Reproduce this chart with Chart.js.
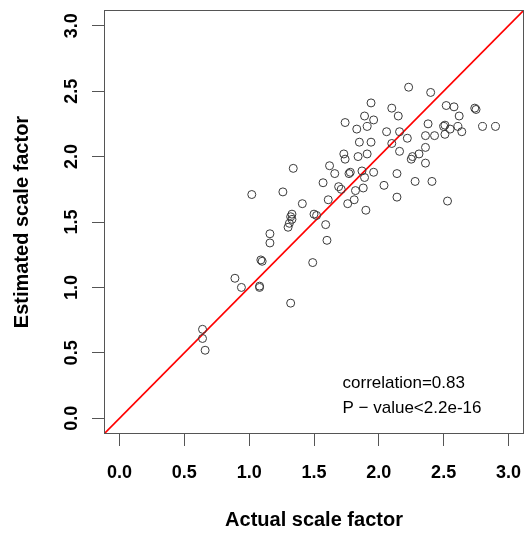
<!DOCTYPE html>
<html>
<head>
<meta charset="utf-8">
<script src="https://cdn.jsdelivr.net/npm/chart.js@4"></script>
<style>
  html, body { margin: 0; padding: 0; background: #fff; }
  #wrap { width: 529px; height: 536px; }
</style>
</head>
<body>
<div id="wrap"><canvas id="c" width="529" height="536"></canvas></div>
<script>
// actual vs estimated scale factor
const actualScale = [
  2.23, 2.40, 1.94, 2.10, 2.15, 2.52, 2.58, 2.74, 2.75, 1.89,
  1.96, 1.74, 1.91, 1.83, 2.62, 2.38, 2.51, 2.50, 2.61, 2.55,
  2.80, 2.90, 2.06, 2.16, 2.22, 2.36, 2.43, 2.51, 2.64, 1.85,
  1.94, 2.10, 2.36, 2.16, 1.73, 1.74, 1.84, 1.91, 2.31, 2.26,
  2.25, 2.36, 1.62, 1.66, 1.77, 1.78, 1.87, 1.96, 2.14, 1.89,
  1.69, 1.71, 1.88, 1.82, 2.04, 2.28, 2.41, 1.61, 1.81, 1.76,
  2.14, 1.90, 2.53, 1.34, 1.57, 1.02, 1.26, 1.41, 1.33, 1.32,
  1.33, 1.31, 1.30, 1.50, 1.52, 1.59, 1.60, 1.16, 1.16, 1.09,
  1.10, 1.49, 0.89, 0.94, 1.08, 1.08, 1.32, 0.64, 0.64, 0.66
];
const estimatedScale = [
  2.53, 2.49, 2.41, 2.37, 2.31, 2.39, 2.38, 2.37, 2.36, 2.31,
  2.28, 2.26, 2.23, 2.21, 2.31, 2.25, 2.24, 2.23, 2.23, 2.21,
  2.23, 2.23, 2.19, 2.19, 2.14, 2.16, 2.16, 2.17, 2.19, 2.11,
  2.11, 2.10, 2.07, 2.04, 2.02, 1.98, 2.00, 2.02, 2.02, 2.00,
  1.98, 1.95, 1.93, 1.87, 1.87, 1.88, 1.89, 1.88, 1.87, 1.84,
  1.77, 1.75, 1.76, 1.74, 1.78, 1.81, 1.81, 1.67, 1.67, 1.64,
  1.69, 1.59, 1.66, 1.91, 1.80, 1.71, 1.73, 1.64, 1.56, 1.54,
  1.52, 1.49, 1.46, 1.56, 1.55, 1.48, 1.36, 1.41, 1.34, 1.21,
  1.20, 1.19, 1.07, 1.00, 1.01, 1.00, 0.88, 0.68, 0.61, 0.52
];

const tickValues = [0.0, 0.5, 1.0, 1.5, 2.0, 2.5, 3.0];
const axisMin = -0.12;
const axisMax = 3.12;

// text in the lower right corner: [x, y, text] in data units
const notes = [
  [1.72, 0.27, 'correlation=0.83'],
  [1.72, 0.075, 'P \u2212 value<2.2e-16']
];

const FONT = "'Liberation Sans', Arial, sans-serif";
const AXIS_COLOR = '#555';

const points = actualScale.map((x, i) => ({ x, y: estimatedScale[i] }));

// box round the plot + rotated y tick labels + note text
const rPlotExtras = {
  id: 'rPlotExtras',
  afterDraw(chart) {
    const { ctx, chartArea: a, scales } = chart;
    ctx.save();
    ctx.strokeStyle = AXIS_COLOR;
    ctx.lineWidth = 1;
    ctx.strokeRect(a.left + 0.5, a.top + 0.5, a.right - a.left - 1, a.bottom - a.top - 1);

    ctx.fillStyle = '#000';
    ctx.font = 'bold 18px ' + FONT;
    ctx.textAlign = 'center';
    ctx.textBaseline = 'middle';
    tickValues.forEach(v => {
      const py = scales.y.getPixelForValue(v);
      ctx.save();
      ctx.translate(72, py);
      ctx.rotate(-Math.PI / 2);
      ctx.fillText(v.toFixed(1), 0, 0);
      ctx.restore();
    });

    ctx.font = '17px ' + FONT;
    ctx.textAlign = 'left';
    notes.forEach(([x, y, t]) => {
      ctx.fillText(t, scales.x.getPixelForValue(x), scales.y.getPixelForValue(y));
    });
    ctx.restore();
  }
};

new Chart(document.getElementById('c'), {
  type: 'scatter',
  data: {
    datasets: [
      {
        type: 'line',
        data: [{ x: axisMin, y: axisMin }, { x: axisMax, y: axisMax }],
        borderColor: '#ff0000',
        borderWidth: 1.6,
        pointRadius: 0,
        order: 2
      },
      {
        data: points,
        pointRadius: 4,
        pointHoverRadius: 4,
        borderWidth: 1,
        borderColor: '#3a3a3a',
        backgroundColor: 'rgba(0,0,0,0)',
        order: 1
      }
    ]
  },
  options: {
    responsive: false,
    animation: false,
    events: [],
    layout: { padding: { top: 10, right: 4, left: 0, bottom: 0 } },
    plugins: { legend: { display: false }, tooltip: { enabled: false } },
    scales: {
      x: {
        type: 'linear',
        min: axisMin,
        max: axisMax,
        afterBuildTicks: s => { s.ticks = tickValues.map(v => ({ value: v })); },
        afterFit: s => { s.height = 102; s.paddingLeft = 0; s.paddingRight = 0; },
        grid: { drawOnChartArea: false, drawTicks: true, tickLength: 12, tickColor: AXIS_COLOR },
        border: { display: false },
        ticks: {
          color: '#000',
          padding: 16,
          maxRotation: 0,
          font: { family: FONT, size: 18, weight: 'bold' },
          callback: v => Number(v).toFixed(1)
        },
        title: {
          display: true,
          text: 'Actual scale factor',
          color: '#000',
          padding: { top: 0, bottom: 4 },
          font: { family: FONT, size: 20, weight: 'bold' }
        }
      },
      y: {
        type: 'linear',
        min: axisMin,
        max: axisMax,
        afterBuildTicks: s => { s.ticks = tickValues.map(v => ({ value: v })); },
        afterFit: s => { s.width = 104; s.paddingTop = 0; s.paddingBottom = 0; },
        grid: { drawOnChartArea: false, drawTicks: true, tickLength: 12, tickColor: AXIS_COLOR },
        border: { display: false },
        ticks: { display: false },
        title: {
          display: true,
          text: 'Estimated scale factor',
          color: '#000',
          padding: { top: 10, bottom: 0 },
          font: { family: FONT, size: 20, weight: 'bold' }
        }
      }
    }
  },
  plugins: [rPlotExtras]
});
</script>
</body>
</html>
